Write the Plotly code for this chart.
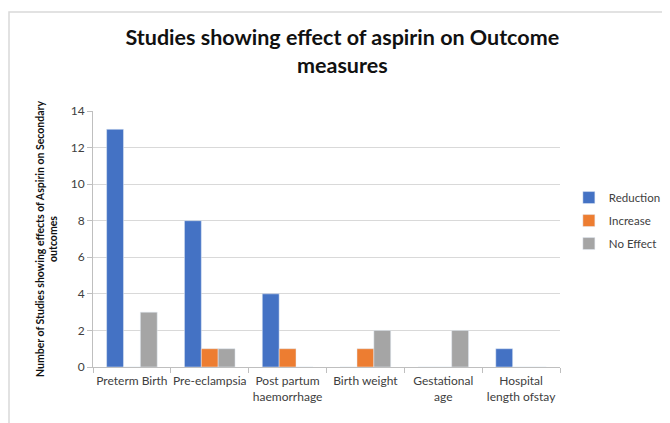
import plotly.graph_objects as go

categories = ["Preterm Birth", "Pre-eclampsia", "Post partum<br>haemorrhage",
              "Birth weight", "Gestational<br>age", "Hospital<br>length ofstay"]
reduction = [13, 8, 4, 0, 0, 1]
increase = [0, 1, 1, 1, 0, 0]
no_effect = [3, 1, 0, 2, 2, 0]
y_ticks = [0, 2, 4, 6, 8, 10, 12, 14]

FONT = "Lato, Open Sans, sans-serif"

fig = go.Figure()
fig.add_trace(go.Bar(name="Reduction", x=categories, y=reduction, marker_color="#4472C4",
                     legendgroup="a"))
fig.add_trace(go.Bar(name="Increase", x=categories, y=increase, marker_color="#ED7D31",
                     legendgroup="b"))
fig.add_trace(go.Bar(name="No Effect", x=categories, y=no_effect, marker_color="#A5A5A5",
                     legendgroup="c"))

fig.update_layout(
    width=662, height=415,
    margin=dict(l=85, r=110, t=103, b=56, autoexpand=False),
    paper_bgcolor="white", plot_bgcolor="white",
    barmode="group", bargap=0.35, bargroupgap=0,
    font=dict(family=FONT, color="#404040", size=12),
    title=dict(text="<b>Studies showing effect of aspirin on Outcome<br>measures</b>",
               x=0.505, xanchor="center", y=0.911, yanchor="middle",
               font=dict(size=21.5, color="#111111", family=FONT)),
    legend=dict(x=1.019, y=0.572, xanchor="left", yanchor="middle",
                font=dict(size=11.5, color="#404040"), tracegroupgap=4,
                itemwidth=30, bgcolor="rgba(0,0,0,0)"),
    showlegend=True,
)
fig.update_xaxes(showline=True, linecolor="#BFBFBF", linewidth=1, tickangle=0,
                 ticks="outside", tickson="boundaries", ticklen=5, tickcolor="#BFBFBF",
                 automargin=False, ticklabelstandoff=3,
                 tickfont=dict(size=12, color="#404040"))
fig.update_yaxes(range=[0, 14], tickvals=y_ticks, showgrid=True, gridcolor="#D9D9D9",
                 showline=True, linecolor="#BFBFBF", ticks="outside", ticklen=5,
                 tickcolor="#BFBFBF", zeroline=False, automargin=False,
                 tickfont=dict(size=12, color="#404040"),
                 title=dict(text="<b>Number of Studies showing effects of Aspirin on Secondary<br>outcomes</b>",
                            font=dict(size=10.5, color="#111111"), standoff=10))

fig.add_shape(type="rect", xref="paper", yref="paper",
              x0=-84/467, x1=(680-93)/467, y0=-(430-367)/256, y1=(367-12)/256,
              line=dict(color="#D9D9D9", width=1.5), layer="below")

fig.write_html("out.html")
